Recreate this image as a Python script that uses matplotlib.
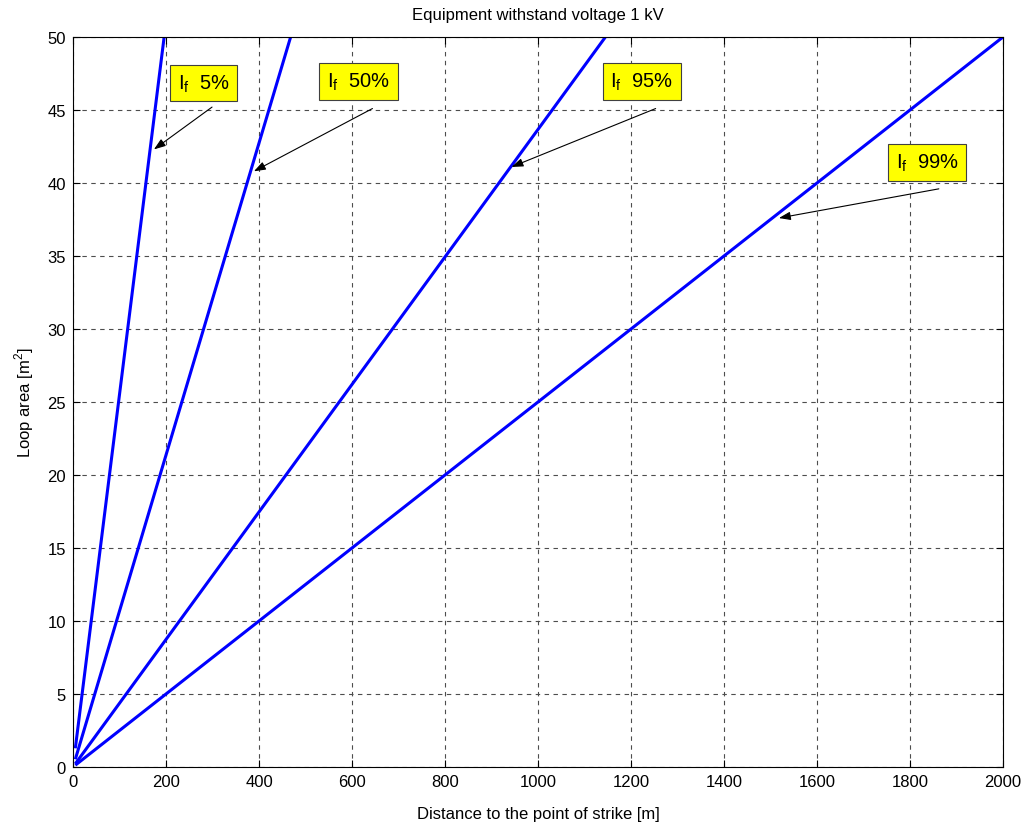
import matplotlib
matplotlib.use("Agg")
import matplotlib.pyplot as plt

plt.rcParams['font.family'] = ['Liberation Sans', 'DejaVu Sans']

# Loop area vs. distance for each peak-current percentile (start and end points)
labels = ["5%", "50%", "95%", "99%"]
dist_start = [5, 5, 5, 5]
dist_end = [196, 468, 1145, 2000]
area_start = [1.28, 0.53, 0.22, 0.125]
area_end = [50, 50, 50, 50]

# Annotation anchor (arrow head on the curve), label centre and arrow tail
head_x = [174, 389, 943, 1518]
head_y = [42.3, 40.8, 41.1, 37.6]
text_x = [281, 614, 1223, 1837]
text_y = [46.85, 46.95, 46.95, 41.4]
tail_x = [299, 644, 1253, 1862]
tail_y = [45.2, 45.1, 45.1, 39.6]

xticks = list(range(0, 2001, 200))
yticks = list(range(0, 51, 5))

fig = plt.figure(figsize=(10.32, 8.28), dpi=100)
ax = fig.add_axes([73/1032, 60/828, 930/1032, 730/828])

for xs, xe, ys, ye in zip(dist_start, dist_end, area_start, area_end):
    ax.plot([xs, xe], [ys, ye], color=(0, 0, 1), lw=2.2, solid_capstyle='butt')

for lab, hx, hy, tx, ty, ax_, ay_ in zip(labels, head_x, head_y, text_x, text_y, tail_x, tail_y):
    ax.annotate("", xy=(hx, hy), xytext=(ax_, ay_),
                arrowprops=dict(arrowstyle='-|>,head_length=0.7,head_width=0.25',
                                color='black', lw=0.8, shrinkA=0, shrinkB=0))
    ax.text(tx, ty, r"I$_\mathregular{f}$  " + lab, fontsize=14.5, ha='center', va='center',
            bbox=dict(boxstyle='square,pad=0.38', facecolor=(1, 1, 0), edgecolor='0.25', lw=0.8))

ax.set_xlim(0, 2000)
ax.set_ylim(0, 50)
ax.set_xticks(xticks)
ax.set_yticks(yticks)
ax.tick_params(direction='in', top=True, right=True, length=5, labelsize=12, pad=5)
ax.grid(True, color='0.3', linestyle=(0, (4, 4)), lw=0.8)
for s in ax.spines.values():
    s.set_linewidth(0.8)

ax.set_title("Equipment withstand voltage 1 kV", fontsize=12, pad=13)
ax.set_xlabel("Distance to the point of strike [m]", fontsize=12, labelpad=12)
ax.set_ylabel(r"Loop area [m$^\mathregular{2}$]", fontsize=12, labelpad=8)

fig.savefig("out.png", dpi=100)
